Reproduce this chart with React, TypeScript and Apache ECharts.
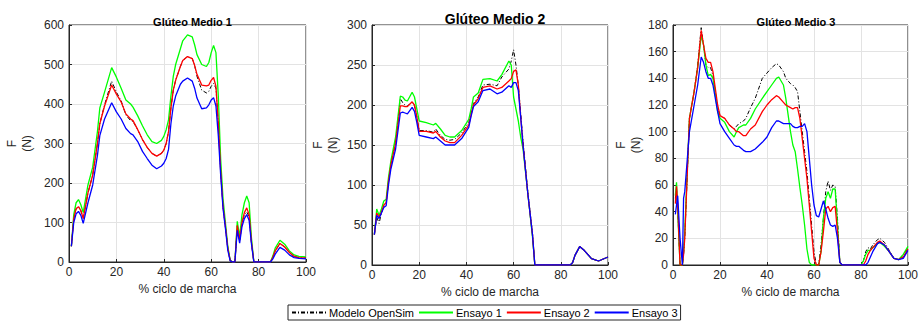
import React, { useEffect, useRef } from "react";
import * as echarts from "echarts";

// ---------- Panel 1: Glúteo Medio 1 ----------
const x1 = [1,2,3,4,5,6,8,10,12,13,15,18,20,22,24,26,27,29,31,33,35,37,39,40,41,42,43,44,45,47,48,50,52,53,54,56,58,59,60,61,62,63,64,65,66,67,68,69,70,71,72,73,74,75,76,77,78,85,86,87,89,91,93,95,97,100];
const gm1Green = [40,120,150,158,145,125,195,240,330,390,430,492,468,440,410,400,392,370,345,322,305,300,308,318,335,360,420,470,500,540,560,575,570,550,525,500,495,505,530,548,530,420,260,160,100,40,5,0,0,103,65,120,150,167,150,60,0,0,15,35,55,45,28,18,14,13];
const gm1Red = [40,110,135,140,130,110,175,220,300,350,395,448,425,405,375,362,358,335,310,290,275,268,275,283,300,330,390,435,460,495,510,520,515,498,475,448,446,448,460,467,445,350,230,140,90,35,4,0,0,93,55,100,125,137,120,50,0,0,12,28,47,38,24,14,11,10];
const gm1Black = [40,110,135,140,130,110,175,220,300,350,398,458,430,408,372,358,356,335,310,290,275,268,275,283,300,330,390,435,460,495,510,520,515,498,470,435,428,432,445,452,440,350,230,140,90,35,4,0,0,90,55,98,120,127,115,48,0,0,12,28,47,38,24,14,11,10];
const gm1Blue = [40,100,122,128,118,98,150,195,270,320,362,403,380,362,338,325,322,305,280,262,245,236,243,250,262,285,350,395,420,450,458,466,458,440,415,388,390,398,410,416,395,320,220,135,85,30,3,0,0,80,48,90,110,120,105,45,0,0,8,20,37,30,18,11,9,8];

// ---------- Panel 2: Glúteo Medio 2 ----------
const x2 = [1,2,3,4,5,6,7,8,10,12,13,14,15,17,18,19,20,23,26,27,29,31,33,35,38,41,42,43,45,47,50,53,55,58,59,60,61,62,63,64,66,68,69,70,84,85,86,88,90,93,96,100];
const gm2Green = [38,70,62,70,80,82,110,130,160,211,210,206,205,216,210,195,180,178,175,177,170,162,160,160,168,182,195,210,215,232,233,230,238,255,250,210,195,180,160,145,90,35,0,0,0,3,12,23,18,8,5,10];
const gm2Red = [38,65,60,66,75,78,105,125,152,199,199,198,198,204,200,185,167,167,165,167,160,155,153,153,162,175,188,200,208,222,224,220,222,230,233,242,244,225,185,150,90,38,0,0,0,3,12,23,18,8,5,10];
const gm2Black = [38,60,52,65,74,77,105,125,155,208,203,200,199,203,199,185,168,168,166,170,162,157,156,157,165,178,190,202,210,225,226,224,235,245,255,269,250,225,190,155,92,40,0,0,0,3,12,23,18,8,5,10];
const gm2Blue = [38,62,58,65,72,74,100,120,145,190,191,190,189,197,192,178,162,160,158,160,155,150,150,150,158,172,186,198,204,218,220,214,216,224,222,228,228,218,185,150,90,38,0,0,0,3,12,23,18,8,5,10];

// ---------- Panel 3: Glúteo Medio 3 ----------
const x3 = [1,1.5,2,3,4,4.5,5,7,9,10.5,12,13,14,15,16,17,19,20,22,24,26,27,28,30,31,33,35,38,40,42,44,45,47,48,50,51,52,53,54,55,56,57,58,59,60,61,62,63,64,65,66,67,68,69,70,71,72,80,81,82,83,84,85,87,88,90,92,94,96,98,100];
const gm3Green = [52,62,40,0,0,10,25,110,130,148,172,165,150,142,143,140,115,110,107,100,96,100,103,105,105,110,117,125,130,135,140,141,135,125,100,90,85,72,58,45,30,12,2,0,0,0,0,10,35,50,55,50,57,57,30,2,0,0,3,8,11,11,13,16,17,14,10,5,4,8,14];
const gm3Red = [46,59,45,0,0,8,20,110,130,148,176,165,155,152,152,145,120,112,110,105,102,100,100,97,97,102,105,115,120,124,127,126,122,120,118,117,118,118,110,95,80,65,45,25,5,0,0,10,25,42,44,40,43,44,25,2,0,0,0,3,8,11,13,17,18,15,10,5,4,6,12];
const gm3Black = [50,57,42,0,0,8,20,110,130,150,178,165,150,148,148,142,118,112,110,105,102,104,106,108,110,118,125,140,144,148,151,150,145,140,136,135,133,130,115,100,85,70,50,30,10,0,0,15,35,55,63,56,60,59,35,2,0,0,3,10,13,12,15,19,20,17,11,5,4,7,13];
const gm3Blue = [38,45,52,20,0,50,55,100,120,135,156,152,145,140,140,135,115,106,100,95,90,89,89,86,85,85,87,92,96,103,108,108,106,106,106,104,103,103,104,104,106,100,80,60,45,37,36,42,48,42,35,30,29,30,20,2,0,0,0,0,2,6,10,16,17,15,10,5,4,5,11];

const xTicks = { min: 0, max: 100, interval: 20 };
const titles = ["Glúteo Medio 1", "Glúteo Medio 2", "Glúteo Medio 3"];
const yRanges = [
  { max: 600, interval: 100 },
  { max: 300, interval: 50 },
  { max: 180, interval: 20 },
];
const seriesNames = ["Modelo OpenSim", "Ensayo 1", "Ensayo 2", "Ensayo 3"];

const FONT = "Liberation Sans, Arial, Helvetica, sans-serif";
const colors = ["#000000", "#00ff00", "#ff0000", "#0000ff"];

function pairs(xs: number[], ys: number[]) {
  return xs.map((x, i) => [x, ys[i]]);
}

export default function App() {
  const ref = useRef<HTMLDivElement>(null);
  useEffect(() => {
    document.body.style.margin = "0";
    const chart = echarts.init(ref.current!, undefined, { renderer: "svg" });
    const grids = [
      { left: 69, top: 25, width: 237, height: 237 },
      { left: 372, top: 25, width: 236, height: 240 },
      { left: 673, top: 25, width: 236, height: 240 },
    ];
    const panels = [
      { x: x1, ys: [gm1Black, gm1Green, gm1Red, gm1Blue] },
      { x: x2, ys: [gm2Black, gm2Green, gm2Red, gm2Blue] },
      { x: x3, ys: [gm3Black, gm3Green, gm3Red, gm3Blue] },
    ];
    const nameGaps = [35, 32, 30];
    const titleSizes = [11, 14, 11];
    const titleTops = [11, 7, 11];

    const series: any[] = [];
    panels.forEach((p, pi) => {
      p.ys.forEach((ys, si) => {
        series.push({
          type: "line",
          name: seriesNames[si],
          xAxisIndex: pi,
          yAxisIndex: pi,
          data: pairs(p.x, ys),
          showSymbol: false,
          symbol: "none",
          color: colors[si],
          lineStyle: {
            color: colors[si],
            width: si === 0 ? 1 : 1.3,
            type: si === 0 ? [4, 2, 1, 2] : "solid",
          },
          z: 2 + si,
        });
      });
    });

    chart.setOption({
      animation: false,
      backgroundColor: "#ffffff",
      textStyle: { fontFamily: FONT },
      title: titles.map((t, i) => ({
        text: t,
        left: grids[i].left + grids[i].width / 2,
        textAlign: "center",
        top: titleTops[i],
        textStyle: { fontSize: titleSizes[i], fontWeight: "bold", color: "#000", fontFamily: FONT },
      })),
      grid: grids.map((g) => ({
        ...g,
        show: true,
        borderColor: "#262626",
        borderWidth: 1,
        backgroundColor: "#ffffff",
      })),
      xAxis: grids.map((_, i) => ({
        type: "value",
        gridIndex: i,
        ...xTicks,
        name: "% ciclo de marcha",
        nameLocation: "middle",
        nameGap: 19,
        nameTextStyle: { fontSize: 12, color: "#262626", fontFamily: FONT },
        axisLine: { show: true, lineStyle: { color: "#262626" } },
        axisTick: { show: true, inside: true, length: 3, lineStyle: { color: "#262626" } },
        axisLabel: { fontSize: 12, color: "#262626", margin: 4, fontFamily: FONT },
        splitLine: { show: true, lineStyle: { color: "#e3e3e3", width: 1 } },
      })),
      yAxis: grids.map((_, i) => ({
        type: "value",
        gridIndex: i,
        min: 0,
        max: yRanges[i].max,
        interval: yRanges[i].interval,
        name: "F\n(N)",
        nameLocation: "middle",
        nameGap: nameGaps[i],
        nameRotate: 90,
        nameTextStyle: { fontSize: 12, color: "#262626", lineHeight: 15, fontFamily: FONT },
        axisLine: { show: true, lineStyle: { color: "#262626" } },
        axisTick: { show: true, inside: true, length: 3, lineStyle: { color: "#262626" } },
        axisLabel: { fontSize: 12, color: "#262626", margin: 5, fontFamily: FONT },
        splitLine: { show: true, lineStyle: { color: "#e3e3e3", width: 1 } },
      })),
      legend: {
        data: seriesNames,
        left: 288,
        top: 305,
        orient: "horizontal",
        backgroundColor: "#ffffff",
        borderColor: "#262626",
        borderWidth: 1,
        borderRadius: 0,
        padding: [2, 3],
        itemGap: 4,
        itemWidth: 34,
        itemHeight: 10,
        itemStyle: { opacity: 0 },
        textStyle: { fontSize: 11, color: "#000", fontFamily: FONT, padding: [0, 0, 0, -2] },
      },
      series,
    });
    return () => chart.dispose();
  }, []);
  return <div ref={ref} style={{ width: 921, height: 325 }} />;
}
